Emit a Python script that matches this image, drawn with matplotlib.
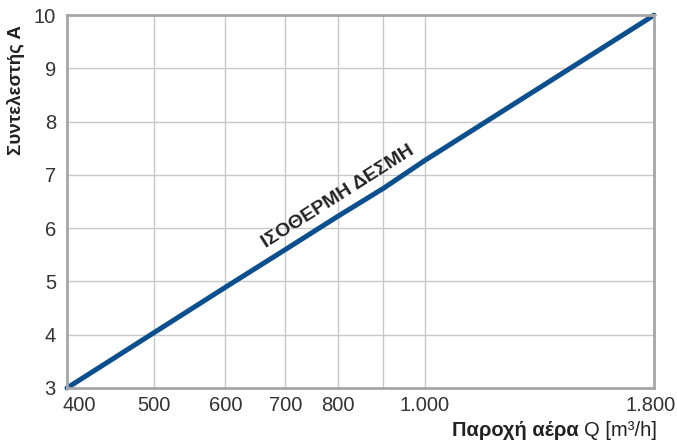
import numpy as np
import matplotlib.pyplot as plt
from matplotlib.ticker import FixedLocator, NullLocator
from matplotlib.transforms import ScaledTranslation

# data (log x axis)
flow_q = [400, 500, 600, 700, 800, 900, 1000, 1800]
coef_a = [3.0, 4.04, 4.89, 5.6, 6.22, 6.75, 7.27, 10.0]

x_ticks = [400, 500, 600, 700, 800, 1000, 1800]
x_ticklabels = ['400', '500', '600', '700', '800', '1.000', '1.800']
x_grid_extra = [900]
y_ticks = [3, 4, 5, 6, 7, 8, 9, 10]

plt.rcParams['font.family'] = ['Liberation Sans', 'DejaVu Sans']

fig = plt.figure(figsize=(6.77, 4.47), dpi=100)
ax = fig.add_axes([0.099, 0.132, 0.867, 0.834])

ax.set_xscale('log')
ax.set_xlim(400, 1800)
ax.set_ylim(3, 10)

# grid lines
grid_c = '#c8c8c8'
for q in x_ticks[1:-1] + x_grid_extra:
    ax.axvline(q, color=grid_c, lw=1.0, zorder=1)
for a in y_ticks[1:-1]:
    ax.axhline(a, color=grid_c, lw=1.0, zorder=1)

ax.plot(flow_q, coef_a, color='#0b4f8e', lw=3.6, solid_capstyle='round', zorder=3, clip_on=False)

ax.xaxis.set_major_locator(FixedLocator(x_ticks))
ax.xaxis.set_minor_locator(NullLocator())
ax.set_xticklabels(x_ticklabels)
ax.set_yticks(y_ticks)
ax.tick_params(axis='both', length=0, labelsize=14.5, labelcolor='#333333')
ax.tick_params(axis='x', pad=6)
ax.tick_params(axis='y', pad=8)

# nudge first and last x labels as in the original
xl = ax.get_xticklabels()
xl[0].set_transform(xl[0].get_transform() + ScaledTranslation(12 / 100, 0, fig.dpi_scale_trans))
xl[-1].set_transform(xl[-1].get_transform() + ScaledTranslation(-3 / 100, 0, fig.dpi_scale_trans))

for s in ax.spines.values():
    s.set_color('#a6a6a6')
    s.set_linewidth(2.0)
    s.set_zorder(4)

ax.set_ylabel('Συντελεστής Α', fontsize=13.5, fontweight='bold', color='#222222')
ax.yaxis.set_label_coords(-0.072, 0.80)

# x label: bold part + regular part
t_reg = fig.text(0.971, 0.016, 'Q [m³/h]', fontsize=14.5, color='#222222', ha='right', va='bottom')
ax.annotate('Παροχή αέρα ', xy=(0, 0), xycoords=t_reg, ha='right', va='bottom',
            fontsize=14.5, fontweight='bold', color='#222222')

# label along the line
ax.annotate('ΙΣΟΘΕΡΜΗ ΔΕΣΜΗ', xy=(820, 6.36), xytext=(-3, 4), textcoords='offset points',
            fontsize=14, fontweight='bold', color='#222222',
            rotation=32.5, rotation_mode='anchor', ha='center', va='bottom', zorder=5)

fig.savefig('out.png', dpi=100)
